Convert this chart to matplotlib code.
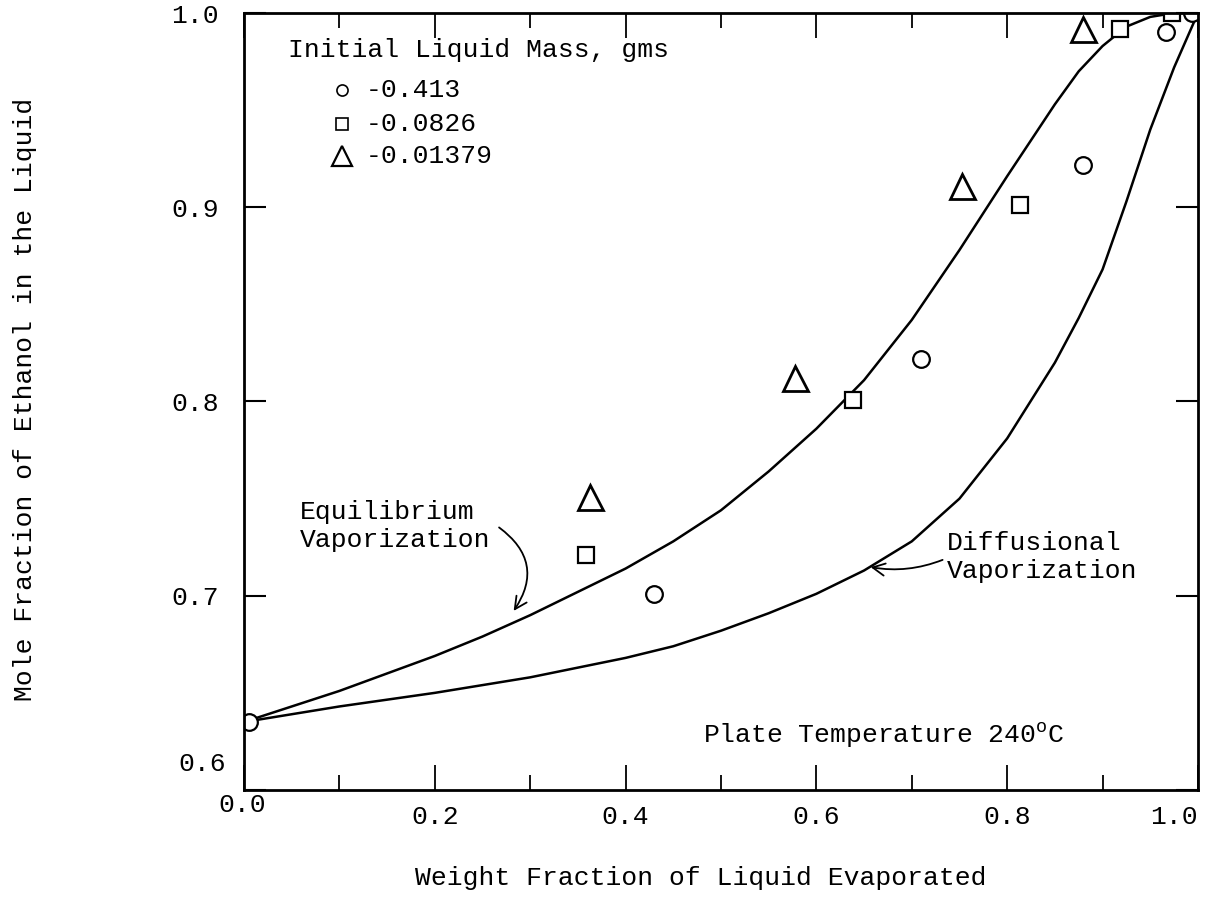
import numpy as np
import matplotlib
matplotlib.use("Agg")
from matplotlib import pyplot as plt

plt.rcParams['font.family'] = ['Liberation Mono', 'DejaVu Sans Mono']
plt.rcParams['mathtext.fontset'] = 'custom'
plt.rcParams['mathtext.rm'] = 'Liberation Mono'

# curves
equil_x = [0.0, 0.05, 0.1, 0.15, 0.2, 0.25, 0.3, 0.35, 0.4, 0.45, 0.5, 0.55, 0.6,
           0.65, 0.7, 0.75, 0.8, 0.85, 0.875, 0.9, 0.925, 0.95, 0.975, 1.0]
equil_y = [0.635, 0.643, 0.651, 0.660, 0.669, 0.679, 0.690, 0.702, 0.714, 0.728,
           0.744, 0.764, 0.786, 0.811, 0.842, 0.878, 0.916, 0.953, 0.970, 0.983,
           0.993, 0.998, 1.0, 1.0]

diff_x = [0.0, 0.05, 0.1, 0.15, 0.2, 0.25, 0.3, 0.35, 0.4, 0.45, 0.5, 0.55, 0.6,
          0.65, 0.7, 0.75, 0.8, 0.85, 0.875, 0.9, 0.925, 0.95, 0.975, 1.0]
diff_y = [0.635, 0.639, 0.643, 0.6465, 0.650, 0.654, 0.658, 0.663, 0.668, 0.674,
          0.682, 0.691, 0.701, 0.713, 0.728, 0.750, 0.781, 0.820, 0.843, 0.868,
          0.903, 0.940, 0.972, 1.0]

# measured points, by initial liquid mass
circle_x = [0.005, 0.43, 0.71, 0.88, 0.966, 0.994]
circle_y = [0.635, 0.701, 0.822, 0.922, 0.990, 1.0]
square_x = [0.358, 0.638, 0.813, 0.918, 0.973]
square_y = [0.721, 0.801, 0.901, 0.992, 1.0]
tri_x = [0.363, 0.578, 0.753, 0.879]
tri_y = [0.751, 0.812, 0.911, 0.992]

masses = ['0.413', '0.0826', '0.01379']

x_major = [0.0, 0.2, 0.4, 0.6, 0.8, 1.0]
x_minor = [0.1, 0.3, 0.5, 0.7, 0.9]
x_labels = ['', '0.2', '0.4', '0.6', '0.8', '']
y_major = [0.6, 0.7, 0.8, 0.9, 1.0]
y_labels = ['', '0.7', '0.8', '0.9', '1.0']

fig = plt.figure(figsize=(12.08, 8.97), dpi=100)
ax = fig.add_axes([0.2020, 0.1193, 0.7897, 0.8662])

ax.plot(equil_x, equil_y, color='black', lw=1.8)
ax.plot(diff_x, diff_y, color='black', lw=1.8)

ax.plot(circle_x, circle_y, 'o', ms=12, mfc='white', mec='black', mew=1.6)
ax.plot(square_x, square_y, 's', ms=12, mfc='white', mec='black', mew=1.6)
ax.plot(tri_x, tri_y, '^', ms=18, mfc='white', mec='black', mew=2.0)

ax.set_xlim(0, 1.0)
ax.set_ylim(0.6, 1.0)
ax.set_xticks(x_major)
ax.set_xticks(x_minor, minor=True)
ax.set_xticklabels(x_labels)
ax.set_yticks(y_major)
ax.set_yticklabels(y_labels)
ax.tick_params(axis='x', which='major', direction='in', length=18, width=1.3,
               top=True, labelsize=19, pad=11)
ax.tick_params(axis='x', which='minor', direction='in', length=11, width=1.3, top=True)
ax.tick_params(axis='y', which='major', direction='in', length=16, width=1.5,
               right=True, labelsize=19, pad=18)
for s in ax.spines.values():
    s.set_linewidth(2.0)

# the typed corner labels sit off their ticks
ax.annotate('0.0', xy=(0.0, 0.6), xytext=(-1, -2), textcoords='offset points',
            ha='center', va='top', fontsize=19, annotation_clip=False)
ax.annotate('1.0', xy=(1.0, 0.6), xytext=(0, -11), textcoords='offset points',
            ha='right', va='top', fontsize=19, annotation_clip=False)
ax.annotate('0.6', xy=(0.0, 0.6), xytext=(-13, 19), textcoords='offset points',
            ha='right', va='center', fontsize=19, annotation_clip=False)

fig.text(0.021, 0.555, 'Mole Fraction of Ethanol in the Liquid', rotation=90,
         ha='center', va='center', fontsize=19)
fig.text(0.580, 0.021, 'Weight Fraction of Liquid Evaporated',
         ha='center', va='center', fontsize=19)

# legend typed inside the frame
ax.text(0.046, 0.952, 'Initial Liquid Mass, gms', transform=ax.transAxes,
        ha='left', va='center', fontsize=19)
leg_marks = [('o', 8, 1.2), ('s', 9, 1.2), ('^', 15, 1.6)]
leg_y = [0.901, 0.857, 0.816]
for (m, ms, mew), yy, lab in zip(leg_marks, leg_y, masses):
    ax.plot([0.103], [yy], m, ms=ms, mfc='white', mec='black', mew=mew,
            transform=ax.transAxes, clip_on=False)
    ax.text(0.128, yy, '-' + lab, transform=ax.transAxes, ha='left',
            va='center', fontsize=19)

ax.text(0.059, 0.736, 'Equilibrium\nVaporization', ha='left', va='center',
        fontsize=19, linespacing=1.2)
ax.annotate('', xy=(0.281, 0.691), xytext=(0.265, 0.736),
            arrowprops=dict(arrowstyle='->', color='black', lw=1.3,
                            mutation_scale=22, connectionstyle='arc3,rad=-0.5'))

ax.text(0.737, 0.720, 'Diffusional\nVaporization', ha='left', va='center',
        fontsize=19, linespacing=1.2)
ax.annotate('', xy=(0.654, 0.715), xytext=(0.735, 0.719),
            arrowprops=dict(arrowstyle='->', color='black', lw=1.3,
                            mutation_scale=22, connectionstyle='arc3,rad=-0.15'))

ax.text(0.481, 0.628, r'Plate Temperature 240$^\mathrm{o}$C', ha='left',
        va='center', fontsize=19)

fig.savefig('out.png', dpi=100)
